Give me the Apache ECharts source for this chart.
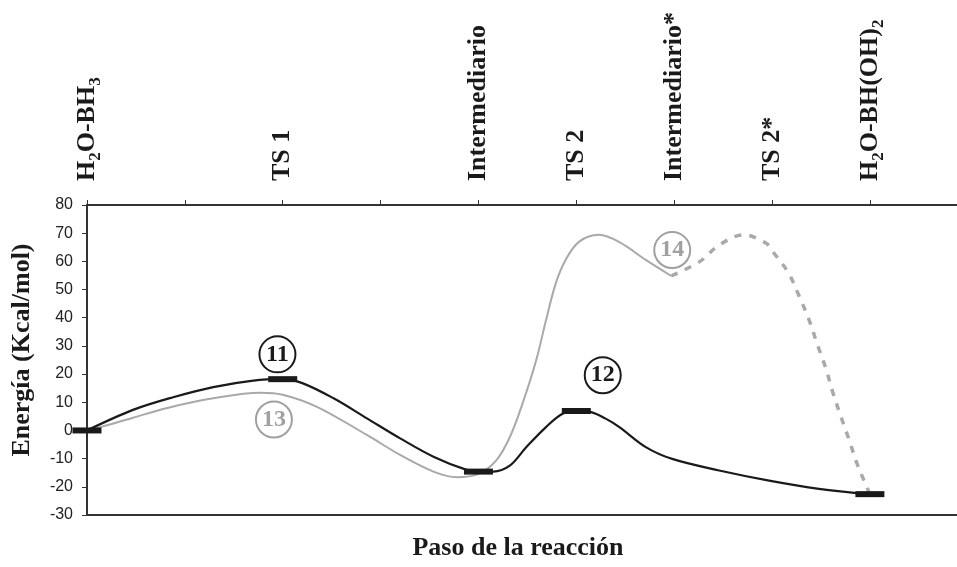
<!DOCTYPE html>
<html>
<head>
<meta charset="utf-8">
<script src="https://cdn.jsdelivr.net/npm/echarts@6/dist/echarts.min.js"></script>
<style>html,body{margin:0;padding:0;background:#fff}#c{width:957px;height:567px}</style>
</head>
<body>
<div id="c"></div>
<script>
// Reaction step tick labels (top axis, one per integer step)
const tickLabels = ['H2O-BH3', '', 'TS 1', '', 'Intermediario', 'TS 2', 'Intermediario*', 'TS 2*', 'H2O-BH(OH)2'];
// Y axis ticks
const yTicks = [-30, -20, -10, 0, 10, 20, 30, 40, 50, 60, 70, 80];

// Path 11 -> 12 (black)
const pathBlack = [[0,0],[0.47,7.3],[0.88,11.8],[1.29,15.4],[1.7,17.7],[2.0,18.2],[2.2,16.8],[2.52,11.4],[2.86,4.3],[3.2,-2.8],[3.54,-9.3],[3.88,-14],[4.0,-14.6],[4.15,-14.6],[4.32,-12.5],[4.49,-5.9],[4.69,1.2],[4.86,5.9],[5.0,6.9],[5.15,6.5],[5.3,4.2],[5.44,1.2],[5.71,-5.9],[5.98,-10.1],[6.46,-14.2],[6.97,-17.8],[7.48,-20.7],[8.0,-22.6]];
// Path 13 -> 14 (grey, solid)
const pathGrey = [[0,0],[0.13,1.1],[0.47,4.5],[0.81,7.9],[1.29,11.4],[1.77,13.4],[2.0,12.7],[2.35,8.4],[2.86,-1.6],[3.2,-8.7],[3.54,-14.6],[3.78,-16.6],[4.0,-15.4],[4.18,-10.7],[4.32,-2.4],[4.45,9.5],[4.59,24.9],[4.69,39.1],[4.79,52.2],[4.89,60.5],[5.03,67],[5.23,69.4],[5.44,66.8],[5.71,60.5],[5.97,54.8]];
// Path 14 continuation (grey, dashed)
const pathGreyDashed = [[5.97,54.8],[6.26,59.9],[6.46,65.8],[6.71,69.4],[6.94,66.4],[7.02,62.9],[7.17,55.8],[7.28,47.4],[7.38,39.1],[7.46,30.8],[7.55,22],[7.62,13.6],[7.70,5.3],[7.79,-3.6],[7.87,-11.9],[7.97,-20.2],[8.0,-22.6]];
// Stationary points (thick bars)
const stationary = [[0,0],[2,18.2],[4,-14.6],[5,6.9],[8,-22.6]];
// Circled compound labels
const tagsBlack = [{name:'11', value:[1.946,27.0]}, {name:'12', value:[5.27,19.6]}];
const tagsGrey = [{name:'13', value:[1.91,3.9]}, {name:'14', value:[5.98,64]}];

const serif = '"Liberation Serif", "Times New Roman", serif';
const axisColor = '#333';

function richLabel(s) {
  if (!s) return '';
  let out = '';
  for (let i = 0; i < s.length; i++) {
    const ch = s[i];
    const prev = i > 0 ? s[i-1] : '';
    if (/\d/.test(ch) && /[A-Za-z)]/.test(prev)) out += '{s|' + ch + '}';
    else out += '{m|' + ch + '}';
  }
  return out;
}

const chart = echarts.init(document.getElementById('c'), null, {renderer: 'canvas'});
chart.setOption({
  animation: false,
  backgroundColor: '#fff',
  grid: {left: 87, right: 0, top: 205, bottom: 52, containLabel: false},
  xAxis: [{
    type: 'value', position: 'top', min: 0, max: 8.89, interval: 1,
    axisLine: {show: true, onZero: false, lineStyle: {color: axisColor, width: 2}},
    axisTick: {show: true, inside: false, length: 5, lineStyle: {color: axisColor, width: 1}},
    splitLine: {show: false},
    axisLabel: {
      show: true, rotate: -90, margin: 24, color: '#1a1a1a',
      formatter: function (v) { const i = Math.round(v); return Math.abs(v - i) < 1e-6 ? richLabel(tickLabels[i] || '') : ''; },
      rich: {
        m: {fontFamily: serif, fontWeight: 'bold', fontSize: 26, lineHeight: 34, verticalAlign: 'middle', color: '#1a1a1a'},
        s: {fontFamily: serif, fontWeight: 'bold', fontSize: 17, lineHeight: 17, verticalAlign: 'bottom', color: '#1a1a1a'}
      }
    }
  }, {
    type: 'value', position: 'bottom', min: 0, max: 8.89, interval: 1,
    axisLine: {show: true, onZero: false, lineStyle: {color: axisColor, width: 2}},
    axisTick: {show: false}, axisLabel: {show: false}, splitLine: {show: false},
    name: 'Paso de la reacción', nameLocation: 'middle', nameGap: 20,
    nameTextStyle: {fontFamily: serif, fontWeight: 'bold', fontSize: 26, color: '#1a1a1a', padding: [0,8,0,0]}
  }],
  yAxis: {
    type: 'value', min: yTicks[0], max: yTicks[yTicks.length-1], interval: 10,
    axisLine: {show: true, onZero: false, lineStyle: {color: axisColor, width: 2}},
    axisTick: {show: true, inside: false, length: 5, lineStyle: {color: axisColor, width: 1}},
    splitLine: {show: false},
    axisLabel: {margin: 14, fontFamily: '"Liberation Sans", Arial, sans-serif', fontSize: 16, color: '#222'},
    name: 'Energía (Kcal/mol)', nameLocation: 'middle', nameRotate: 90, nameGap: 52,
    nameTextStyle: {fontFamily: serif, fontWeight: 'bold', fontSize: 26, color: '#1a1a1a', padding: [0,0,0,20]}
  },
  series: [
    {type: 'line', name: 'grey', data: pathGrey, smooth: 0.35, symbol: 'none', z: 2,
     lineStyle: {color: '#a9a9a9', width: 2}},
    {type: 'line', name: 'greyDashed', data: pathGreyDashed, smooth: 0.35, symbol: 'none', z: 2,
     lineStyle: {color: '#a9a9a9', width: 3.5, type: [7, 8]}},
    {type: 'line', name: 'black', data: pathBlack, smooth: 0.35, symbol: 'none', z: 3,
     lineStyle: {color: '#1a1a1a', width: 2.2}},
    {type: 'scatter', name: 'stationary', data: stationary, symbol: 'rect', symbolSize: [29, 6], clip: false, z: 4,
     itemStyle: {color: '#1a1a1a', opacity: 1}},
    {type: 'scatter', name: 'tagsBlack', data: tagsBlack, symbol: 'circle', symbolSize: 36, clip: false, z: 5,
     itemStyle: {color: 'rgba(255,255,255,0)', borderColor: '#1a1a1a', borderWidth: 2, opacity: 1},
     label: {show: true, position: 'inside', formatter: '{b}', fontFamily: serif, fontWeight: 'bold', fontSize: 24, color: '#1a1a1a'}},
    {type: 'scatter', name: 'tagsGrey', data: tagsGrey, symbol: 'circle', symbolSize: 36, clip: false, z: 5,
     itemStyle: {color: 'rgba(255,255,255,0)', borderColor: '#a0a0a0', borderWidth: 2, opacity: 1},
     label: {show: true, position: 'inside', formatter: '{b}', fontFamily: serif, fontWeight: 'bold', fontSize: 24, color: '#a0a0a0'}}
  ]
});
</script>
</body>
</html>
